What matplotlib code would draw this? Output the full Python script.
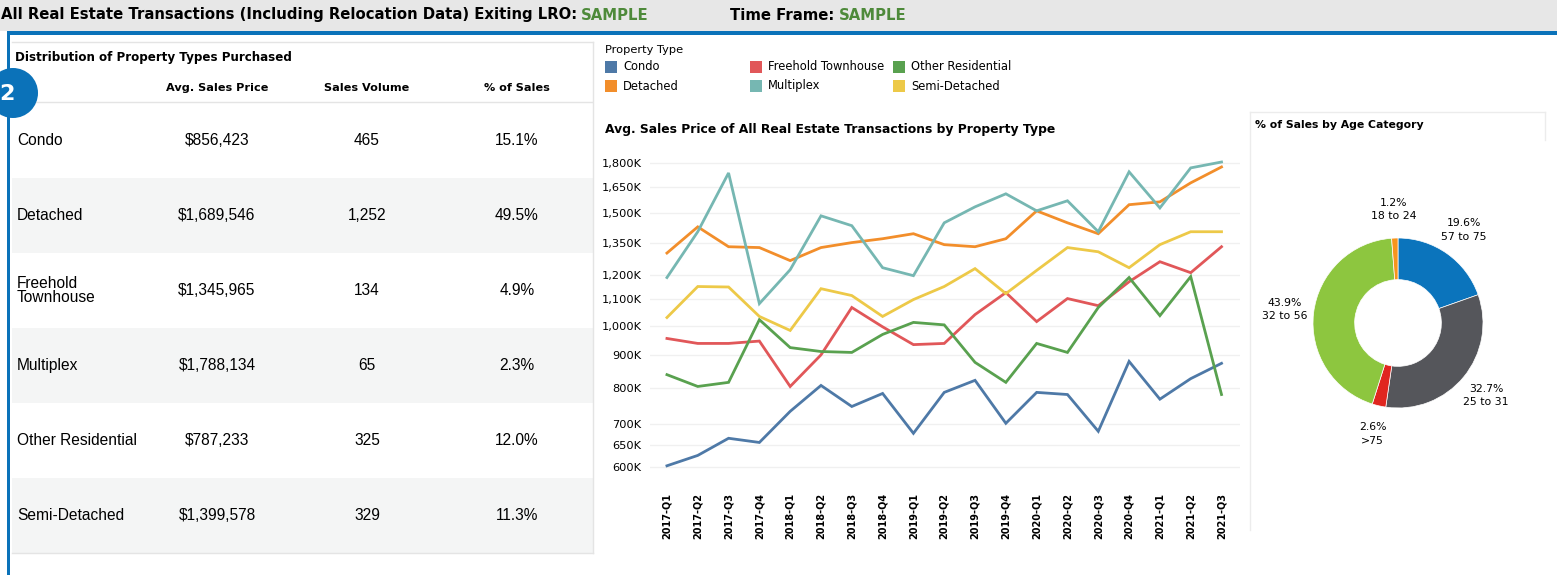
import numpy as np
import matplotlib
matplotlib.use('Agg')
import matplotlib.pyplot as plt
from matplotlib.patches import Rectangle, Circle
from matplotlib.ticker import FixedLocator, FuncFormatter, NullLocator

W, H = 1557, 575

# ---- data ----
quarters = ['2017-Q1', '2017-Q2', '2017-Q3', '2017-Q4', '2018-Q1', '2018-Q2', '2018-Q3',
            '2018-Q4', '2019-Q1', '2019-Q2', '2019-Q3', '2019-Q4', '2020-Q1', '2020-Q2',
            '2020-Q3', '2020-Q4', '2021-Q1', '2021-Q2', '2021-Q3']

condo = [603, 626, 666, 656, 734, 806, 747, 783, 678, 786, 821, 703, 786, 780, 683, 879, 767, 826, 873]
detached = [1300, 1429, 1330, 1326, 1265, 1326, 1350, 1369, 1394, 1340, 1330, 1369, 1514, 1450,
            1394, 1548, 1564, 1675, 1774]
freehold = [955, 938, 938, 946, 803, 900, 1068, 996, 934, 938, 1041, 1127, 1015, 1103, 1075,
            1172, 1260, 1211, 1330]
multiplex = [1190, 1404, 1736, 1083, 1224, 1487, 1435, 1233, 1198, 1450, 1536, 1610, 1514, 1570,
             1404, 1743, 1530, 1768, 1806]
other_res = [838, 803, 815, 1022, 924, 911, 908, 969, 1012, 1003, 876, 815, 938, 908, 1068, 1190,
             1037, 1194, 780]
semi = [1030, 1152, 1150, 1034, 983, 1143, 1115, 1034, 1099, 1152, 1229, 1123, 1221, 1326, 1306,
        1233, 1340, 1404, 1404]

y_ticks = [600, 650, 700, 800, 900, 1000, 1100, 1200, 1350, 1500, 1650, 1800]

prop_types = ['Condo', 'Detached', 'Freehold Townhouse', 'Multiplex', 'Other Residential', 'Semi-Detached']
table_labels = ['Condo', 'Detached', 'Freehold\nTownhouse', 'Multiplex', 'Other Residential', 'Semi-Detached']
avg_price = ['$856,423', '$1,689,546', '$1,345,965', '$1,788,134', '$787,233', '$1,399,578']
sales_vol = ['465', '1,252', '134', '65', '325', '329']
pct_sales = ['15.1%', '49.5%', '4.9%', '2.3%', '12.0%', '11.3%']

age_labels = ['57 to 75', '25 to 31', '>75', '32 to 56', '18 to 24']
age_pct = [19.6, 32.7, 2.6, 43.9, 1.2]

line_colors = ['#4e79a7', '#f28e2b', '#e15759', '#76b7b2', '#59a14f', '#edc948']
age_colors = ['#0b74bc', '#55565b', '#e0261f', '#8dc63f', '#f7941d']
blue = '#0b72b9'
green_txt = '#4e8a3a'


def rect(left, top, right, bottom):
    return [left / W, 1 - bottom / H, (right - left) / W, (bottom - top) / H]


fig = plt.figure(figsize=(W / 100, H / 100), dpi=100)
bg = fig.add_axes([0, 0, 1, 1])
bg.set_xlim(0, W)
bg.set_ylim(H, 0)
bg.axis('off')

# header
bg.add_patch(Rectangle((0, 0), W, 31, color='#e7e7e7', lw=0))
t1 = bg.text(1, 15, 'All Real Estate Transactions (Including Relocation Data) Exiting LRO:',
             fontsize=10.7, fontweight='bold', va='center')
bg.annotate('SAMPLE', xy=(1, 0.5), xycoords=t1, xytext=(3, 0), textcoords='offset points',
            fontsize=10.7, fontweight='bold', color=green_txt, va='center')
t2 = bg.text(730, 15, 'Time Frame:', fontsize=10.7, fontweight='bold', va='center')
bg.annotate('SAMPLE', xy=(1, 0.5), xycoords=t2, xytext=(3, 0), textcoords='offset points',
            fontsize=10.7, fontweight='bold', color=green_txt, va='center')
bg.add_patch(Rectangle((7, 31), W, 4, color=blue, lw=0))
bg.add_patch(Rectangle((7, 31), 3.5, H, color=blue, lw=0))

# table panel
grey_line = '#e4e4e4'
row_top, row_h = 103, 75
for i in range(len(table_labels)):
    y0 = row_top + i * row_h
    if i % 2 == 1:
        bg.add_patch(Rectangle((12, y0), 581, row_h, color='#f4f5f5', lw=0))
    yc = y0 + row_h / 2
    bg.text(17, yc, table_labels[i], fontsize=11.2, family='Liberation Sans', va='center',
            linespacing=1.0)
    bg.text(217, yc, avg_price[i], fontsize=11.2, family='Liberation Sans', va='center', ha='center')
    bg.text(367, yc, sales_vol[i], fontsize=11.2, family='Liberation Sans', va='center', ha='center')
    bg.text(517, yc, pct_sales[i], fontsize=11.2, family='Liberation Sans', va='center', ha='center')
bg.plot([12, 593], [42, 42], color=grey_line, lw=1)
bg.plot([593, 593], [42, 553], color=grey_line, lw=1)
bg.plot([12, 593], [553, 553], color=grey_line, lw=1)
bg.plot([12, 592], [102, 102], color=grey_line, lw=1)
bg.text(15, 57, 'Distribution of Property Types Purchased', fontsize=8.6, fontweight='bold', va='center')
for xc, lab in zip([217, 367, 517], ['Avg. Sales Price', 'Sales Volume', '% of Sales']):
    bg.text(xc, 88, lab, fontsize=8.1, fontweight='bold', va='center', ha='center')

# step badge
bg.add_patch(Circle((13, 93), 25, color=blue, lw=0, zorder=5))
bg.text(7, 94, '2', fontsize=16, fontweight='bold', color='white', va='center', ha='center', zorder=6)

# legend
bg.text(605, 50, 'Property Type', fontsize=8.2, va='center')
for i, (name, col) in enumerate(zip(prop_types, line_colors)):
    lx = [605, 750, 893][i // 2]
    ly = [67, 86][i % 2]
    bg.add_patch(Rectangle((lx, ly - 6), 12, 12, color=col, lw=0))
    bg.text(lx + 18, ly, name, fontsize=8.3, va='center')

bg.text(605, 130, 'Avg. Sales Price of All Real Estate Transactions by Property Type',
        fontsize=8.9, fontweight='bold', va='center')

# donut panel frame
bg.plot([1250, 1545], [112, 112], color='#ececec', lw=1)
bg.plot([1250, 1250], [112, 530], color='#ececec', lw=1)
bg.plot([1545, 1545], [112, 140], color='#ececec', lw=1)
bg.text(1255, 125, '% of Sales by Age Category', fontsize=7.8, fontweight='bold', va='center')

# ---- line chart ----
ax = fig.add_axes(rect(650, 150, 1240, 478))
x = np.arange(len(quarters))
for series, col in zip([condo, detached, freehold, multiplex, other_res, semi], line_colors):
    ax.plot(x, series, color=col, lw=2.0, solid_joinstyle='miter')
ax.set_yscale('log')
ax.set_ylim(577, 1886)
ax.set_xlim(-0.55, 18.6)
ax.yaxis.set_major_locator(FixedLocator(y_ticks))
ax.yaxis.set_minor_locator(NullLocator())
ax.yaxis.set_major_formatter(FuncFormatter(lambda v, p: '{:,.0f}K'.format(v)))
ax.set_xticks(x)
ax.set_xticklabels(quarters, rotation=90, fontsize=7, fontweight='semibold')
ax.tick_params(axis='y', length=0, labelsize=8.2, pad=6)
ax.tick_params(axis='x', length=0, pad=11)
ax.grid(axis='y', color='#f0f0f0', lw=1)
ax.set_axisbelow(True)
for s in ax.spines.values():
    s.set_visible(False)

# ---- donut ----
cx, cy, r = 1398, 323, 85
dax = fig.add_axes(rect(cx - 150, cy - 150, cx + 150, cy + 150))
wedges, _ = dax.pie(age_pct, colors=age_colors, startangle=90, counterclock=False,
                    radius=r / 150, wedgeprops=dict(width=0.49 * r / 150, edgecolor='white', lw=0.5))
dax.set_xlim(-1, 1)
dax.set_ylim(-1, 1)
dax.set_aspect('equal')
for w, lab, p in zip(wedges, age_labels, age_pct):
    ang = np.deg2rad((w.theta1 + w.theta2) / 2)
    d = 1.34 * r / 150
    dax.text(d * np.cos(ang), d * np.sin(ang), '{:.1f}%\n{}'.format(p, lab), fontsize=7.8,
             ha='center', va='center', linespacing=1.4)

fig.savefig('out.png', dpi=100)
